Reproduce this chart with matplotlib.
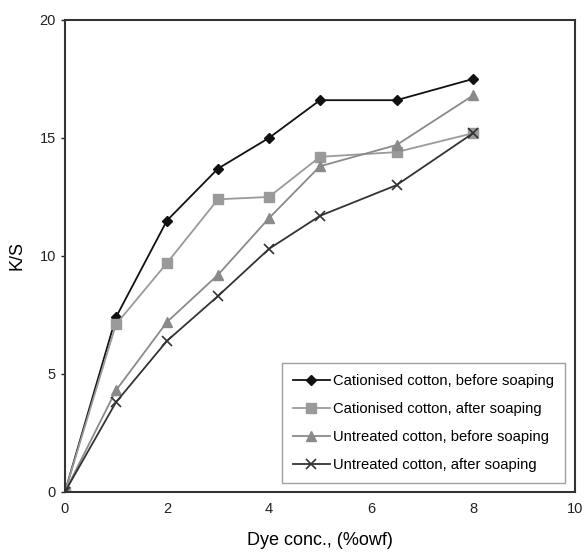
import matplotlib
matplotlib.use("Agg")
import matplotlib.pyplot as plt

plt.rcParams['font.family'] = ['Liberation Sans', 'DejaVu Sans']

# dye concentration (%owf) and K/S values
dye_conc = [0, 1, 2, 3, 4, 5, 6.5, 8]
cat_before = [0, 7.4, 11.5, 13.7, 15.0, 16.6, 16.6, 17.5]
cat_after = [0, 7.1, 9.7, 12.4, 12.5, 14.2, 14.4, 15.2]
untr_before = [0, 4.3, 7.2, 9.2, 11.6, 13.8, 14.7, 16.8]
untr_after = [0, 3.8, 6.4, 8.3, 10.3, 11.7, 13.0, 15.2]

labels = ['Cationised cotton, before soaping',
          'Cationised cotton, after soaping',
          'Untreated cotton, before soaping',
          'Untreated cotton, after soaping']

fig = plt.figure(figsize=(5.85, 5.54), dpi=100)
ax = fig.add_axes([0.111, 0.112, 0.872, 0.852])

ax.plot(dye_conc, cat_before, color='#111111', marker='D', markersize=5.5, lw=1.3, label=labels[0])
ax.plot(dye_conc, cat_after, color='#9a9a9a', marker='s', markersize=6.5, lw=1.3, label=labels[1])
ax.plot(dye_conc, untr_before, color='#8a8a8a', marker='^', markersize=6.5, lw=1.3, label=labels[2])
ax.plot(dye_conc, untr_after, color='#333333', marker='x', markersize=7.5, mew=1.2, lw=1.3, label=labels[3])

ax.set_xlim(0, 10)
ax.set_ylim(0, 20)
ax.set_xticks([0, 2, 4, 6, 8, 10])
ax.set_yticks([0, 5, 10, 15, 20])
ax.tick_params(labelsize=10.5, colors='#222222', length=3, width=1)
ax.tick_params(axis='x', pad=7, length=0)
for s in ax.spines.values():
    s.set_linewidth(1.5)
    s.set_color('#333333')

ax.set_xlabel('Dye conc., (%owf)', fontsize=13, labelpad=12)
ax.set_ylabel('K/S', fontsize=13, labelpad=10)

leg = ax.legend(loc='lower right', bbox_to_anchor=(0.994, 0.004), fontsize=10.6,
                frameon=True, fancybox=False, edgecolor='#888888',
                handlelength=2.5, labelspacing=0.95, borderpad=0.75, handletextpad=0.2)
leg.get_frame().set_linewidth(1.0)

fig.savefig('out.png', dpi=100)
